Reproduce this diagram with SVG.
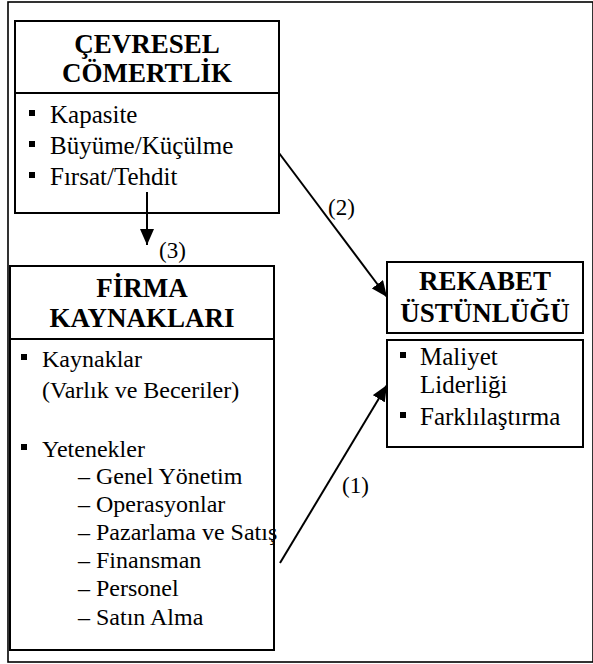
<svg xmlns="http://www.w3.org/2000/svg" width="593" height="664" viewBox="0 0 593 664">
<style>
.bx{fill:#fff;stroke:#000;stroke-width:2}
.frm{fill:#fff;stroke:#000;stroke-width:1.6}
.con{stroke:#000;stroke-width:2;fill:none}
.bul{fill:#000}
</style>
<defs>
<marker id="ah" viewBox="0 0 16 14" refX="16" refY="7" markerWidth="16" markerHeight="14" markerUnits="userSpaceOnUse" orient="auto">
<path d="M0,0 L16,7 L0,14 Z" fill="#000"/>
</marker>
</defs>
<rect class="frm" x="8" y="2" width="585" height="660"/>
<g id="cevresel" font-family="'Liberation Serif', 'Times New Roman', serif">
<rect class="bx" x="15" y="21" width="264" height="72"/>
<rect class="bx" x="15" y="93" width="264" height="120"/>
<text x="147" y="53" font-family="'Liberation Serif', 'Times New Roman', serif" font-size="27" font-weight="bold" text-anchor="middle">ÇEVRESEL</text>
<text x="147" y="82" font-family="'Liberation Serif', 'Times New Roman', serif" font-size="27" font-weight="bold" text-anchor="middle">CÖMERTLİK</text>
<rect class="bul" x="29" y="110" width="6" height="6"/>
<text x="50" y="123" font-family="'Liberation Serif', 'Times New Roman', serif" font-size="25">Kapasite</text>
<rect class="bul" x="29" y="141" width="6" height="6"/>
<text x="50" y="154" font-family="'Liberation Serif', 'Times New Roman', serif" font-size="25">Büyüme/Küçülme</text>
<rect class="bul" x="29" y="172" width="6" height="6"/>
<text x="50" y="185" font-family="'Liberation Serif', 'Times New Roman', serif" font-size="25">Fırsat/Tehdit</text>
</g>
<g id="firma" font-family="'Liberation Serif', 'Times New Roman', serif">
<rect class="bx" x="10" y="266" width="264" height="73"/>
<rect class="bx" x="10" y="339" width="264" height="311"/>
<text x="142" y="297" font-family="'Liberation Serif', 'Times New Roman', serif" font-size="27" font-weight="bold" text-anchor="middle">FİRMA</text>
<text x="142" y="327" font-family="'Liberation Serif', 'Times New Roman', serif" font-size="27" font-weight="bold" text-anchor="middle">KAYNAKLARI</text>
<rect class="bul" x="21" y="354" width="6" height="6"/>
<text x="42" y="367" font-family="'Liberation Serif', 'Times New Roman', serif" font-size="24">Kaynaklar</text>
<text x="42" y="398" font-family="'Liberation Serif', 'Times New Roman', serif" font-size="24">(Varlık ve Beceriler)</text>
<rect class="bul" x="21" y="444" width="6" height="6"/>
<text x="42" y="457" font-family="'Liberation Serif', 'Times New Roman', serif" font-size="24">Yetenekler</text>
<text x="78" y="484" font-family="'Liberation Serif', 'Times New Roman', serif" font-size="24">– Genel Yönetim</text>
<text x="78" y="512" font-family="'Liberation Serif', 'Times New Roman', serif" font-size="24">– Operasyonlar</text>
<text x="78" y="540" font-family="'Liberation Serif', 'Times New Roman', serif" font-size="24">– Pazarlama ve Satış</text>
<text x="78" y="568" font-family="'Liberation Serif', 'Times New Roman', serif" font-size="24">– Finansman</text>
<text x="78" y="596" font-family="'Liberation Serif', 'Times New Roman', serif" font-size="24">– Personel</text>
<text x="78" y="625" font-family="'Liberation Serif', 'Times New Roman', serif" font-size="24">– Satın Alma</text>
</g>
<g id="rekabet" font-family="'Liberation Serif', 'Times New Roman', serif">
<rect class="bx" x="387" y="262" width="196" height="71"/>
<rect class="bx" x="387" y="340" width="196" height="107"/>
<text x="485" y="290" font-family="'Liberation Serif', 'Times New Roman', serif" font-size="27" font-weight="bold" text-anchor="middle">REKABET</text>
<text x="485" y="322" font-family="'Liberation Serif', 'Times New Roman', serif" font-size="27" font-weight="bold" text-anchor="middle">ÜSTÜNLÜĞÜ</text>
<rect class="bul" x="400" y="352" width="6" height="6"/>
<text x="420" y="365" font-family="'Liberation Serif', 'Times New Roman', serif" font-size="25">Maliyet</text>
<text x="420" y="393" font-family="'Liberation Serif', 'Times New Roman', serif" font-size="25">Liderliği</text>
<rect class="bul" x="400" y="412" width="6" height="6"/>
<text x="420" y="425" font-family="'Liberation Serif', 'Times New Roman', serif" font-size="25">Farklılaştırma</text>
</g>
<g id="connectors" font-family="'Liberation Serif', 'Times New Roman', serif">
<line class="con" x1="147" y1="192" x2="147" y2="245" marker-end="url(#ah)"/>
<text x="159" y="258" font-family="'Liberation Serif', 'Times New Roman', serif" font-size="23">(3)</text>
<line class="con" x1="279" y1="153" x2="387" y2="297" marker-end="url(#ah)"/>
<text x="328" y="215" font-family="'Liberation Serif', 'Times New Roman', serif" font-size="23">(2)</text>
<line class="con" x1="280" y1="563" x2="387" y2="385" marker-end="url(#ah)"/>
<text x="342" y="493" font-family="'Liberation Serif', 'Times New Roman', serif" font-size="23">(1)</text>
</g>
</svg>
